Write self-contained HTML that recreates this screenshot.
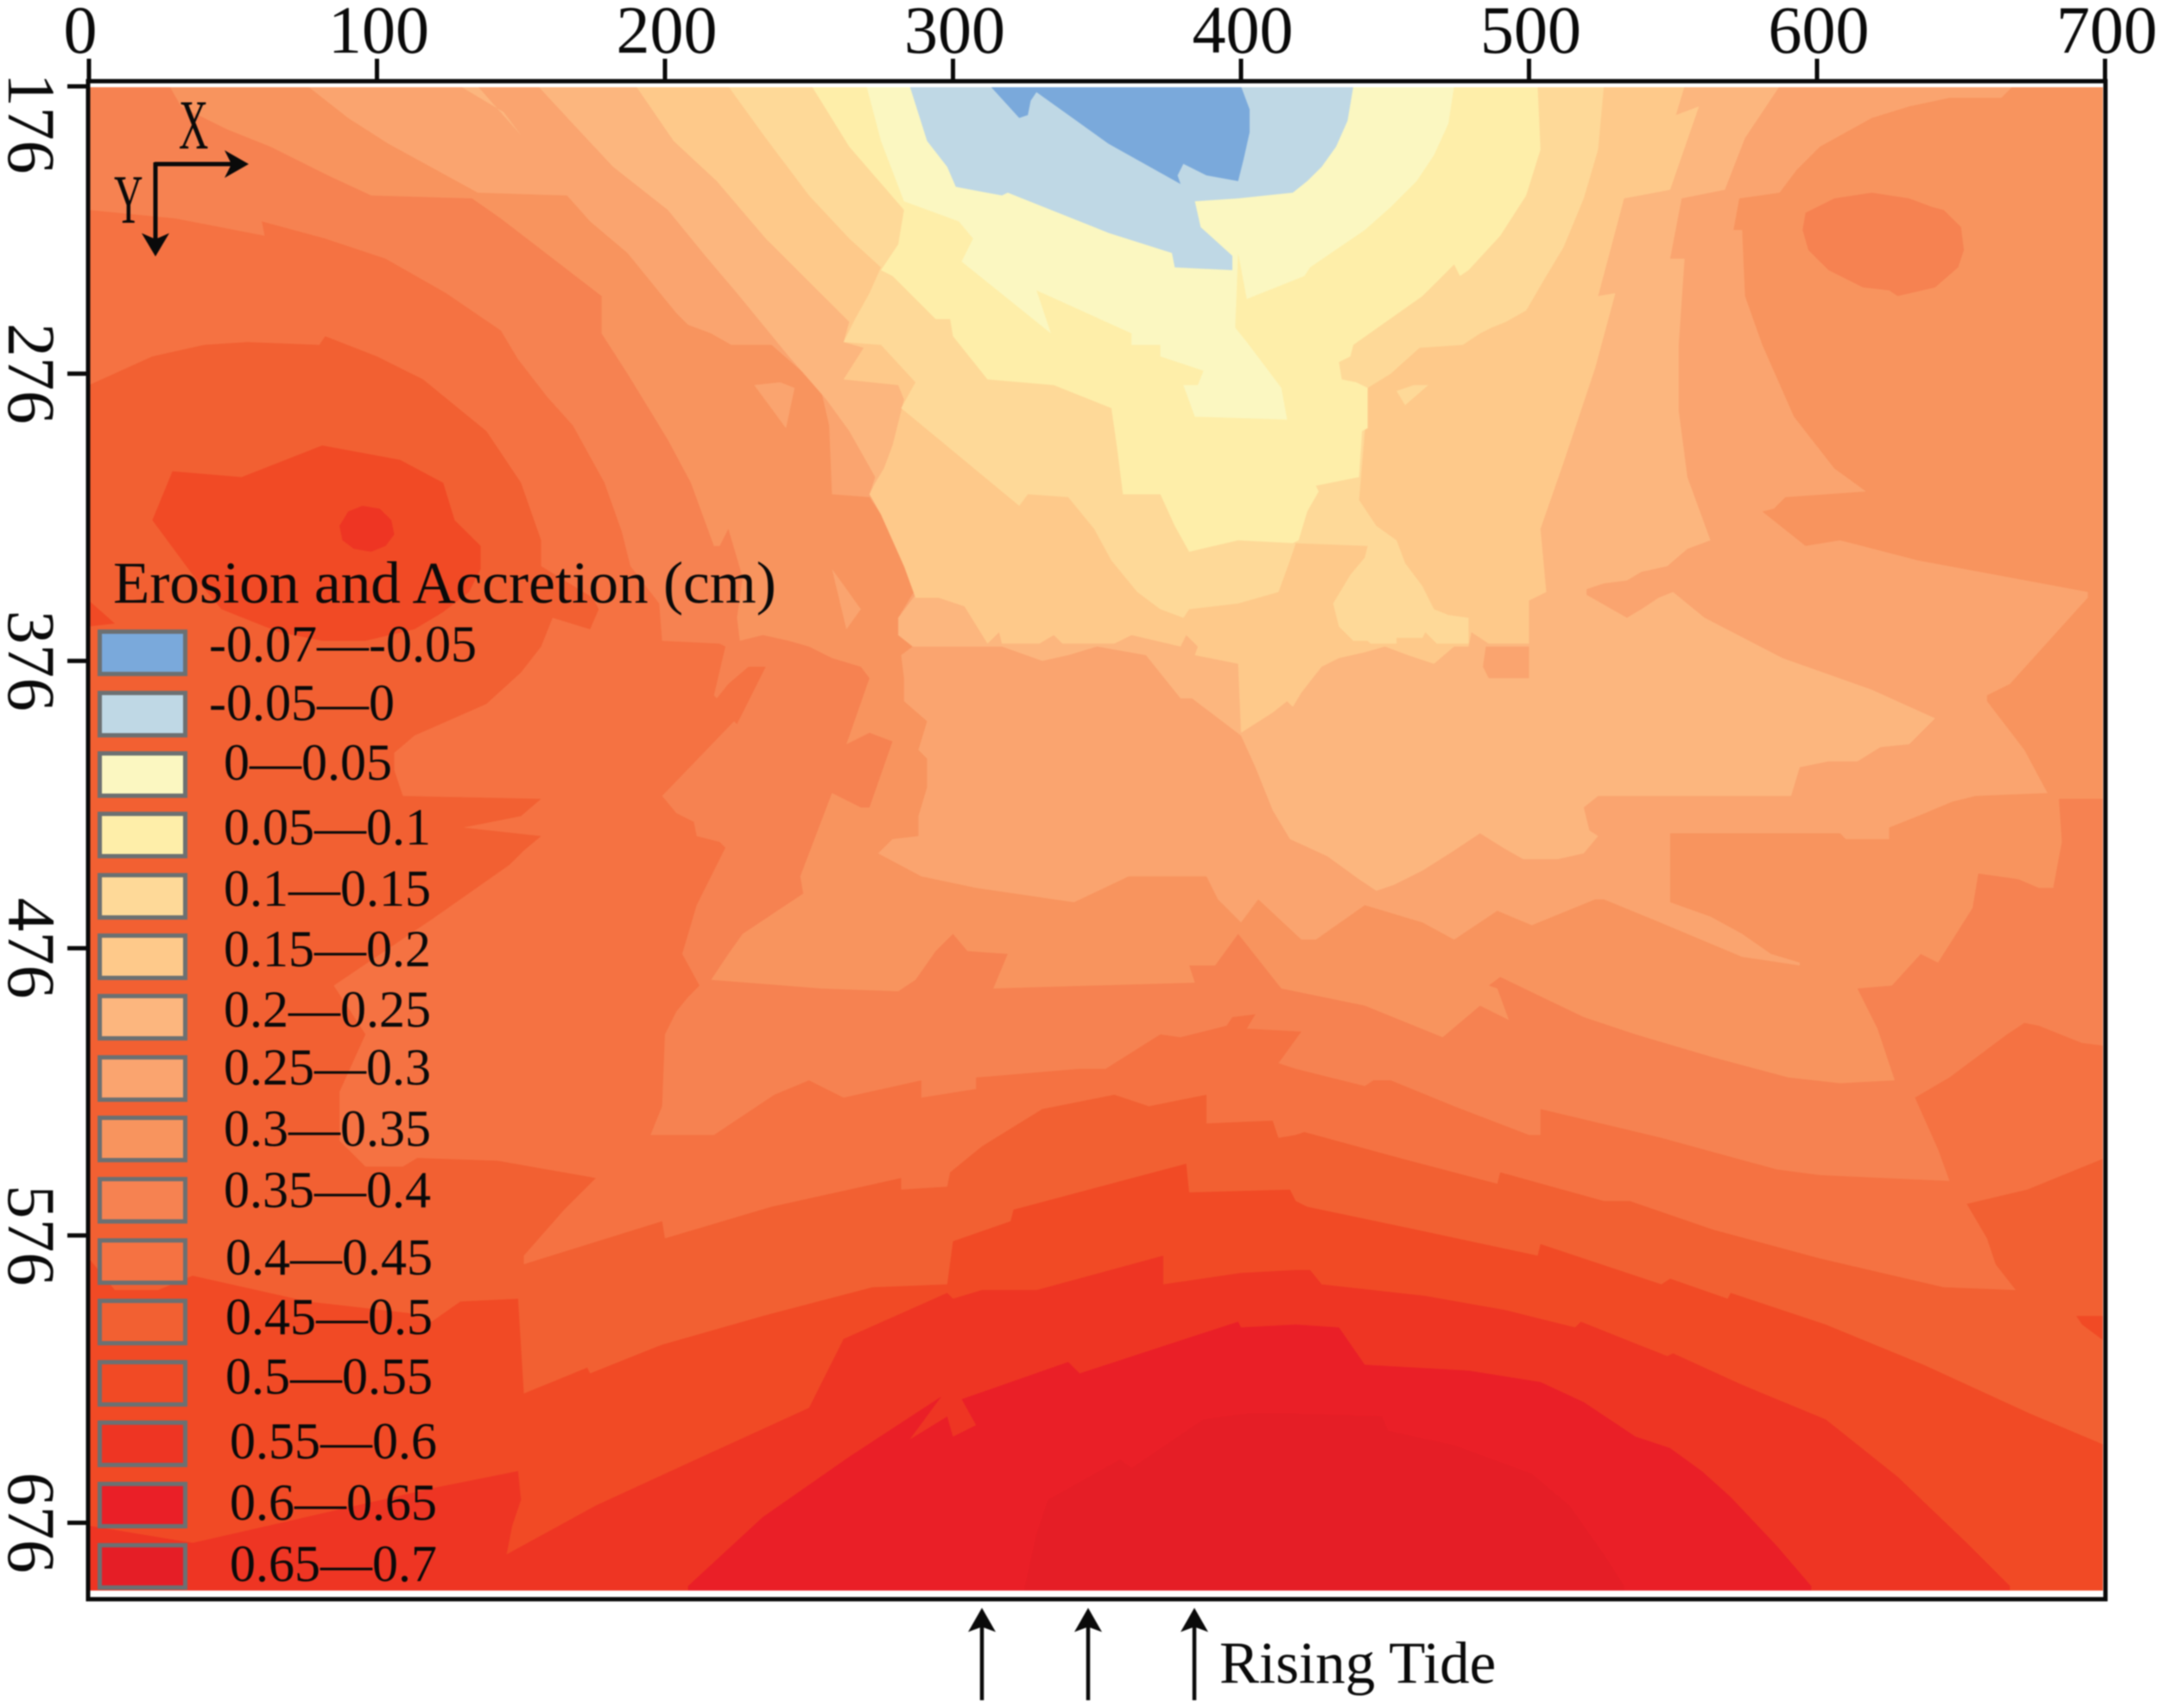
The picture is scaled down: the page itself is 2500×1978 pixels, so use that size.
<!DOCTYPE html>
<html lang="en">
<head>
<meta charset="utf-8">
<title>Erosion and Accretion contour map</title>
<style>
html,body{margin:0;padding:0;background:#fff;width:2500px;height:1978px;overflow:hidden}
svg{display:block;filter:blur(0.7px)}
text{font-family:"Liberation Serif",serif;fill:#0a0a0a}
.sw{stroke:#6c7072;stroke-width:5}
.lg{font-size:60px}
</style>
</head>
<body>
<svg id="chart" xmlns="http://www.w3.org/2000/svg" width="2500" height="1978" viewBox="0 0 2500 1978">
  <defs><clipPath id="plot-clip"><rect x="104" y="101" width="2331" height="1741"/></clipPath></defs>
  <g id="contours" clip-path="url(#plot-clip)"></g>
  <rect x="102" y="94" width="2336" height="1758" fill="none" stroke="#0a0a0a" stroke-width="5"/>
  <g id="axes"></g>

  <g>
    <line x1="179" y1="190" x2="270" y2="190" stroke="#0a0a0a" stroke-width="5"/>
    <polygon points="288,190 260,174 268,190 260,206" fill="#0a0a0a"/>
    <line x1="180" y1="188" x2="180" y2="280" stroke="#0a0a0a" stroke-width="5"/>
    <polygon points="180,297 164,270 180,277 196,270" fill="#0a0a0a"/>
    <text transform="translate(207,172) scale(.58,1)" font-size="82">X</text>
    <text transform="translate(132,258) scale(.58,1)" font-size="80">Y</text>
  </g>

  <g>
    <text x="131" y="698" font-size="69.3">Erosion and Accretion (cm)</text>
    <rect class="sw" x="115.5" y="731.5" width="99" height="49" fill="#7aa9db"/>
    <text class="lg" x="242" y="766">-0.07—-0.05</text>
    <rect class="sw" x="115.5" y="802.5" width="99" height="49" fill="#bfd8e5"/>
    <text class="lg" x="242" y="834">-0.05—0</text>
    <rect class="sw" x="115.5" y="872.5" width="99" height="49" fill="#fbf7c1"/>
    <text class="lg" x="259" y="903">0—0.05</text>
    <rect class="sw" x="115.5" y="942.5" width="99" height="49" fill="#feeea9"/>
    <text class="lg" x="259" y="978">0.05—0.1</text>
    <rect class="sw" x="115.5" y="1013.5" width="99" height="49" fill="#fed998"/>
    <text class="lg" x="259" y="1049">0.1—0.15</text>
    <rect class="sw" x="115.5" y="1083.5" width="99" height="49" fill="#fec98a"/>
    <text class="lg" x="259" y="1119">0.15—0.2</text>
    <rect class="sw" x="115.5" y="1153.5" width="99" height="49" fill="#fcb67e"/>
    <text class="lg" x="259" y="1189">0.2—0.25</text>
    <rect class="sw" x="115.5" y="1224.5" width="99" height="49" fill="#faa46f"/>
    <text class="lg" x="259" y="1256">0.25—0.3</text>
    <rect class="sw" x="115.5" y="1294.5" width="99" height="49" fill="#f8945e"/>
    <text class="lg" x="259" y="1327">0.3—0.35</text>
    <rect class="sw" x="115.5" y="1365.5" width="99" height="49" fill="#f68251"/>
    <text class="lg" x="259" y="1398">0.35—0.4</text>
    <rect class="sw" x="115.5" y="1436.5" width="99" height="49" fill="#f57242"/>
    <text class="lg" x="261" y="1476">0.4—0.45</text>
    <rect class="sw" x="115.5" y="1506.5" width="99" height="49" fill="#f26032"/>
    <text class="lg" x="261" y="1545">0.45—0.5</text>
    <rect class="sw" x="115.5" y="1577.5" width="99" height="49" fill="#f14a25"/>
    <text class="lg" x="261" y="1614">0.5—0.55</text>
    <rect class="sw" x="115.5" y="1647.5" width="99" height="49" fill="#ee3523"/>
    <text class="lg" x="266" y="1689">0.55—0.6</text>
    <rect class="sw" x="115.5" y="1718.5" width="99" height="49" fill="#ea1f27"/>
    <text class="lg" x="266" y="1760">0.6—0.65</text>
    <rect class="sw" x="115.5" y="1789.5" width="99" height="49" fill="#e51e26"/>
    <text class="lg" x="266" y="1831">0.65—0.7</text>
  </g>

  <g>
    <line x1="1137" y1="1969" x2="1137" y2="1882" stroke="#0a0a0a" stroke-width="4.5"/>
    <polygon points="1137,1862 1121,1890 1137,1884 1153,1890" fill="#0a0a0a"/>
    <line x1="1260" y1="1969" x2="1260" y2="1882" stroke="#0a0a0a" stroke-width="4.5"/>
    <polygon points="1260,1862 1244,1890 1260,1884 1276,1890" fill="#0a0a0a"/>
    <line x1="1383" y1="1969" x2="1383" y2="1882" stroke="#0a0a0a" stroke-width="4.5"/>
    <polygon points="1383,1862 1367,1890 1383,1884 1399,1890" fill="#0a0a0a"/>
    <text x="1412" y="1949" font-size="69">Rising Tide</text>
  </g>
</svg>

<script>
const xTicks = [0, 100, 200, 300, 400, 500, 600, 700];
const yTicks = [176, 276, 376, 476, 576, 676];

const below065 = [[0,176],[0,701],[325,701],[325,698],[329,680],[333,668],[358,654],[362,657],[387,640],[402,638],[419,638],[449,639],[451,644],[474,649],[501,659],[514,670],[526,687],[533,698],[533,701],[700,701],[700,176]];

const below060 = [[0,176],[0,701],[208,701],[208,698],[234,674],[264,653],[296,632],[285,647],[298,639],[300,646],[308,642],[303,633],[340,620],[344,624],[399,606],[400,608],[419,607],[434,608],[443,621],[479,623],[504,627],[519,634],[537,646],[549,650],[560,658],[570,667],[586,684],[598,698],[598,701],[700,701],[700,176]];

const below055 = [[0,176],[0,677],[36,683],[119,664],[149,658],[150,668],[147,677],[145,687],[176,670],[215,652],[250,636],[256,624],[262,612],[298,596],[300,598],[310,595],[329,595],[373,583],[373,593],[400,589],[419,588],[424,588],[428,593],[464,597],[492,602],[516,608],[518,606],[548,618],[550,617],[574,628],[603,640],[628,660],[652,683],[667,698],[667,701],[700,701],[700,176]];

const below050 = [[0,176],[0,584],[9,595],[24,595],[36,590],[76,599],[111,603],[119,606],[129,599],[149,598],[151,631],[173,622],[174,624],[199,614],[234,604],[272,594],[298,593],[300,578],[320,571],[321,567],[381,551],[382,561],[417,560],[419,564],[423,566],[461,574],[503,583],[504,579],[546,593],[549,591],[569,598],[570,596],[603,607],[637,621],[674,638],[700,649],[700,176]];

const below045 = [[0,176],[0,280],[22,270],[40,266],[55,265],[80,266],[82,263],[100,270],[116,278],[138,296],[150,314],[157,334],[157,343],[175,354],[177,358],[174,365],[161,361],[157,371],[150,380],[138,391],[113,402],[106,408],[106,414],[109,423],[157,424],[150,430],[130,434],[157,437],[151,442],[146,447],[119,466],[85,489],[96,506],[87,526],[87,537],[87,543],[96,552],[109,552],[114,549],[142,550],[176,556],[165,567],[151,583],[151,586],[199,571],[200,577],[237,566],[282,556],[282,560],[298,559],[299,554],[310,545],[331,532],[356,527],[368,531],[388,527],[388,537],[411,536],[413,542],[419,541],[422,540],[455,549],[489,558],[490,554],[526,564],[535,564],[564,574],[601,584],[644,594],[669,595],[662,586],[659,577],[652,565],[673,560],[700,549],[700,176]];

const below040 = [[0,176],[0,219],[30,222],[61,228],[60,223],[82,229],[103,236],[124,248],[143,261],[149,271],[159,284],[168,294],[179,314],[185,331],[188,343],[198,356],[199,369],[219,370],[221,371],[217,388],[218,389],[222,384],[229,378],[235,378],[225,398],[224,397],[199,423],[204,429],[210,432],[211,437],[219,439],[221,441],[211,461],[206,478],[212,489],[208,493],[204,498],[200,506],[199,531],[195,541],[217,541],[238,527],[250,522],[262,528],[289,522],[289,528],[308,525],[308,521],[344,518],[353,518],[372,506],[379,507],[395,503],[397,500],[405,499],[402,504],[421,505],[413,516],[419,518],[443,524],[446,522],[452,522],[474,531],[500,541],[504,541],[504,532],[546,542],[586,553],[601,555],[646,557],[642,546],[634,528],[646,521],[666,506],[672,502],[677,503],[692,509],[700,510],[700,176]];

const below035 = [[28,176],[32,183],[48,191],[63,197],[83,207],[98,214],[133,215],[143,222],[178,249],[178,262],[187,276],[201,299],[209,314],[217,336],[219,336],[222,330],[227,347],[225,361],[226,369],[234,367],[243,369],[250,371],[258,375],[268,378],[271,382],[263,405],[271,401],[279,404],[271,427],[268,427],[258,422],[247,451],[248,457],[239,463],[227,471],[222,478],[216,487],[254,490],[281,491],[287,487],[294,477],[300,471],[305,477],[319,478],[314,490],[384,488],[382,482],[391,482],[399,471],[414,490],[443,496],[470,507],[483,496],[493,501],[489,490],[486,489],[490,486],[519,500],[537,506],[564,514],[590,521],[608,523],[627,522],[624,513],[621,504],[614,490],[626,489],[636,478],[642,481],[654,462],[656,450],[663,451],[670,452],[677,455],[682,455],[685,439],[684,424],[700,424],[700,176]];

const below030 = [[76,176],[90,187],[104,196],[135,213],[166,214],[174,223],[187,234],[204,255],[208,259],[216,262],[223,266],[237,266],[245,273],[254,281],[257,294],[258,318],[271,319],[275,325],[283,343],[287,351],[281,361],[281,367],[286,371],[282,374],[283,382],[283,390],[291,397],[288,407],[291,410],[291,420],[288,430],[288,437],[279,438],[274,443],[289,451],[308,455],[342,460],[361,451],[388,451],[392,459],[400,467],[406,459],[421,473],[426,473],[443,461],[463,467],[474,473],[489,463],[501,468],[523,459],[526,459],[543,466],[574,479],[594,482],[594,481],[584,478],[574,471],[563,465],[549,460],[549,436],[608,436],[610,438],[625,438],[625,434],[635,430],[647,425],[655,423],[680,422],[672,407],[659,390],[659,388],[667,384],[694,354],[694,352],[635,341],[608,334],[596,336],[581,324],[585,323],[589,319],[617,317],[606,309],[592,291],[581,266],[575,249],[574,226],[571,226],[573,215],[587,213],[593,205],[601,197],[619,187],[632,183],[646,180],[664,180],[668,176]];

const below025 = [[156,176],[168,189],[182,204],[201,219],[214,235],[225,248],[243,270],[256,285],[264,296],[273,312],[271,318],[275,325],[283,343],[287,351],[287,353],[281,361],[281,367],[286,371],[317,371],[331,376],[340,374],[350,371],[367,374],[379,389],[383,389],[400,402],[405,413],[411,428],[417,438],[430,444],[441,452],[447,456],[453,454],[463,449],[474,442],[483,436],[491,441],[498,445],[510,445],[519,443],[524,437],[521,435],[519,427],[524,423],[591,423],[594,413],[604,411],[614,411],[622,406],[632,405],[641,396],[619,386],[588,375],[561,361],[550,352],[545,354],[539,358],[534,361],[520,353],[520,351],[526,349],[534,348],[539,345],[548,343],[555,337],[563,334],[555,312],[552,289],[552,266],[554,236],[549,236],[553,215],[568,212],[575,194],[587,176]];

const below020 = [[190,176],[203,195],[218,209],[235,229],[252,246],[264,258],[262,265],[269,267],[262,278],[281,280],[283,285],[282,289],[279,301],[276,309],[273,314],[271,318],[275,325],[283,343],[287,354],[295,354],[304,357],[312,370],[316,366],[317,370],[330,370],[335,367],[338,370],[356,370],[362,367],[379,371],[381,367],[385,371],[384,374],[399,377],[400,401],[411,394],[416,390],[418,392],[421,387],[428,378],[434,375],[443,373],[450,371],[458,374],[467,377],[474,371],[479,371],[480,366],[486,370],[500,370],[500,355],[506,352],[504,330],[512,307],[523,274],[530,248],[524,249],[533,215],[549,212],[559,183],[551,186],[554,176]];

const below015 = [[222,176],[235,194],[250,214],[264,229],[275,239],[271,248],[266,257],[262,265],[275,266],[287,279],[282,288],[323,322],[326,318],[340,319],[349,330],[355,341],[364,352],[372,358],[380,361],[382,358],[399,356],[413,352],[417,341],[419,335],[444,336],[443,340],[438,346],[432,356],[434,364],[439,369],[444,369],[445,370],[454,370],[454,368],[463,368],[464,366],[468,370],[479,370],[479,361],[472,360],[467,358],[463,350],[457,342],[454,334],[447,329],[441,320],[443,296],[444,281],[452,276],[462,267],[477,266],[483,262],[487,260],[492,258],[499,254],[506,242],[512,232],[519,215],[524,198],[526,176]];

const below010 = [[251,176],[264,197],[283,219],[281,231],[275,240],[279,242],[294,257],[299,257],[300,263],[312,278],[335,280],[355,288],[357,302],[359,318],[372,318],[377,329],[382,338],[399,334],[418,335],[420,334],[423,324],[427,317],[426,315],[441,312],[442,296],[444,295],[444,281],[440,279],[435,278],[434,272],[438,270],[439,266],[463,249],[474,238],[476,242],[479,240],[490,228],[499,214],[504,198],[503,176]];

const below005 = [[270,176],[275,195],[283,216],[302,223],[307,229],[303,237],[334,262],[329,247],[362,262],[362,266],[372,266],[372,270],[387,275],[385,280],[380,280],[384,291],[416,292],[414,281],[402,265],[398,260],[399,234],[402,250],[422,242],[424,239],[443,226],[452,218],[461,209],[467,200],[472,189],[474,176]];

const below000 = [[285,176],[291,195],[298,204],[301,211],[317,214],[319,213],[354,227],[376,234],[377,239],[397,240],[397,235],[386,225],[384,216],[399,215],[418,213],[423,209],[428,204],[433,197],[437,188],[439,176]];

const belowMinus005 = [[313,176],[323,187],[326,186],[327,181],[329,178],[354,196],[379,210],[378,207],[380,203],[388,207],[399,209],[401,201],[403,192],[403,184],[400,176]];

const leftBumpOuter = [[22,327],[29,310],[53,312],[81,301],[108,306],[123,314],[127,327],[136,336],[136,344],[132,352],[123,359],[113,365],[96,369],[81,369],[66,366],[46,358],[36,346]];
const leftBumpInner = [[87,329],[90,324],[95,322],[101,323],[105,327],[106,332],[103,336],[98,338],[92,337],[88,334]];
const leftEdgePatch = [[0,355],[9,363],[0,364]];
const rightEdgePatch = [[690,604],[700,604],[700,613],[692,607]];
const rightHighSpot = [[596,220],[606,215],[619,213],[632,215],[640,218],[644,219],[650,225],[651,233],[649,239],[641,246],[628,249],[625,247],[616,246],[604,240],[597,233],[595,226]];
const pocketA = [[231,280],[240,279],[245,281],[242,295]];
const pocketB = [[258,344],[268,358],[263,365]];
const pocketC = [[485,371],[500,371],[500,382],[486,382],[484,378]];
const pocketD = [[129,176],[135,176],[150,193],[144,185]];
const pocketE = [[454,282],[460,280],[465,280],[457,287]];

const bandColors = ['#e51e26','#ea1f27','#ee3523','#f14a25','#f26032','#f57242','#f68251','#f8945e','#faa46f','#fcb67e','#fec98a','#fed998','#feeea9','#fbf7c1','#bfd8e5','#7aa9db'];
const SVGNS = 'http://www.w3.org/2000/svg';

function xScale(v) { return 103 + 3.335 * v; }
function yScale(v) { return 100 + 3.327 * (v - 176); }

const contourLayer = document.getElementById('contours');
const axisLayer = document.getElementById('axes');

function drawBand(points, color) {
  const el = document.createElementNS(SVGNS, 'polygon');
  
  
  el.setAttribute('points', points.map(function (p) { return xScale(p[0]).toFixed(1) + ',' + yScale(p[1]).toFixed(1); }).join(' '));
  el.setAttribute('fill', color);
  contourLayer.appendChild(el);
}

function drawBase() {
  const el = document.createElementNS(SVGNS, 'rect');
  
  
  el.setAttribute('x', xScale(0));
  el.setAttribute('y', yScale(176));
  el.setAttribute('width', xScale(700) - xScale(0));
  el.setAttribute('height', yScale(701) - yScale(176));
  el.setAttribute('fill', bandColors[0]);
  contourLayer.appendChild(el);
}

drawBase();
[below065, below060, below055, below050, below045, below040, below035, below030, below025, below020, below015, below010, below005, below000, belowMinus005].forEach(function (band, i) {
  drawBand(band, bandColors[i + 1]);
});
drawBand(leftBumpOuter, bandColors[3]);
drawBand(leftBumpInner, bandColors[2]);
drawBand(leftEdgePatch, bandColors[3]);
drawBand(rightEdgePatch, bandColors[3]);
drawBand(rightHighSpot, bandColors[6]);
drawBand(pocketA, bandColors[8]);
drawBand(pocketB, bandColors[8]);
drawBand(pocketC, bandColors[8]);
drawBand(pocketD, bandColors[9]);
drawBand(pocketE, bandColors[11]);

xTicks.forEach(function (t) {
  const tick = document.createElementNS(SVGNS, 'line');
  
  
  tick.setAttribute('x1', xScale(t));
  tick.setAttribute('x2', xScale(t));
  tick.setAttribute('y1', 68);
  tick.setAttribute('y2', 94);
  tick.setAttribute('stroke', '#0a0a0a');
  tick.setAttribute('stroke-width', 5);
  axisLayer.appendChild(tick);
  const label = document.createElementNS(SVGNS, 'text');
  
  
  label.setAttribute('x', xScale(t) + (t === 0 ? -10 : 2));
  label.setAttribute('y', 61);
  label.setAttribute('text-anchor', 'middle');
  label.setAttribute('font-size', 78);
  label.textContent = String(t);
  axisLayer.appendChild(label);
});

yTicks.forEach(function (t, i) {
  const tick = document.createElementNS(SVGNS, 'line');
  
  
  tick.setAttribute('x1', 78);
  tick.setAttribute('x2', 102);
  tick.setAttribute('y1', yScale(t));
  tick.setAttribute('y2', yScale(t));
  tick.setAttribute('stroke', '#0a0a0a');
  tick.setAttribute('stroke-width', 5);
  axisLayer.appendChild(tick);
  const label = document.createElementNS(SVGNS, 'text');
  
  
  const cy = yScale(t) + (i === 0 ? 43 : 0);
  label.setAttribute('transform', 'translate(10,' + cy + ') rotate(90)');
  label.setAttribute('text-anchor', 'middle');
  label.setAttribute('font-size', 78);
  label.textContent = String(t);
  axisLayer.appendChild(label);
});
</script>
</body>
</html>
